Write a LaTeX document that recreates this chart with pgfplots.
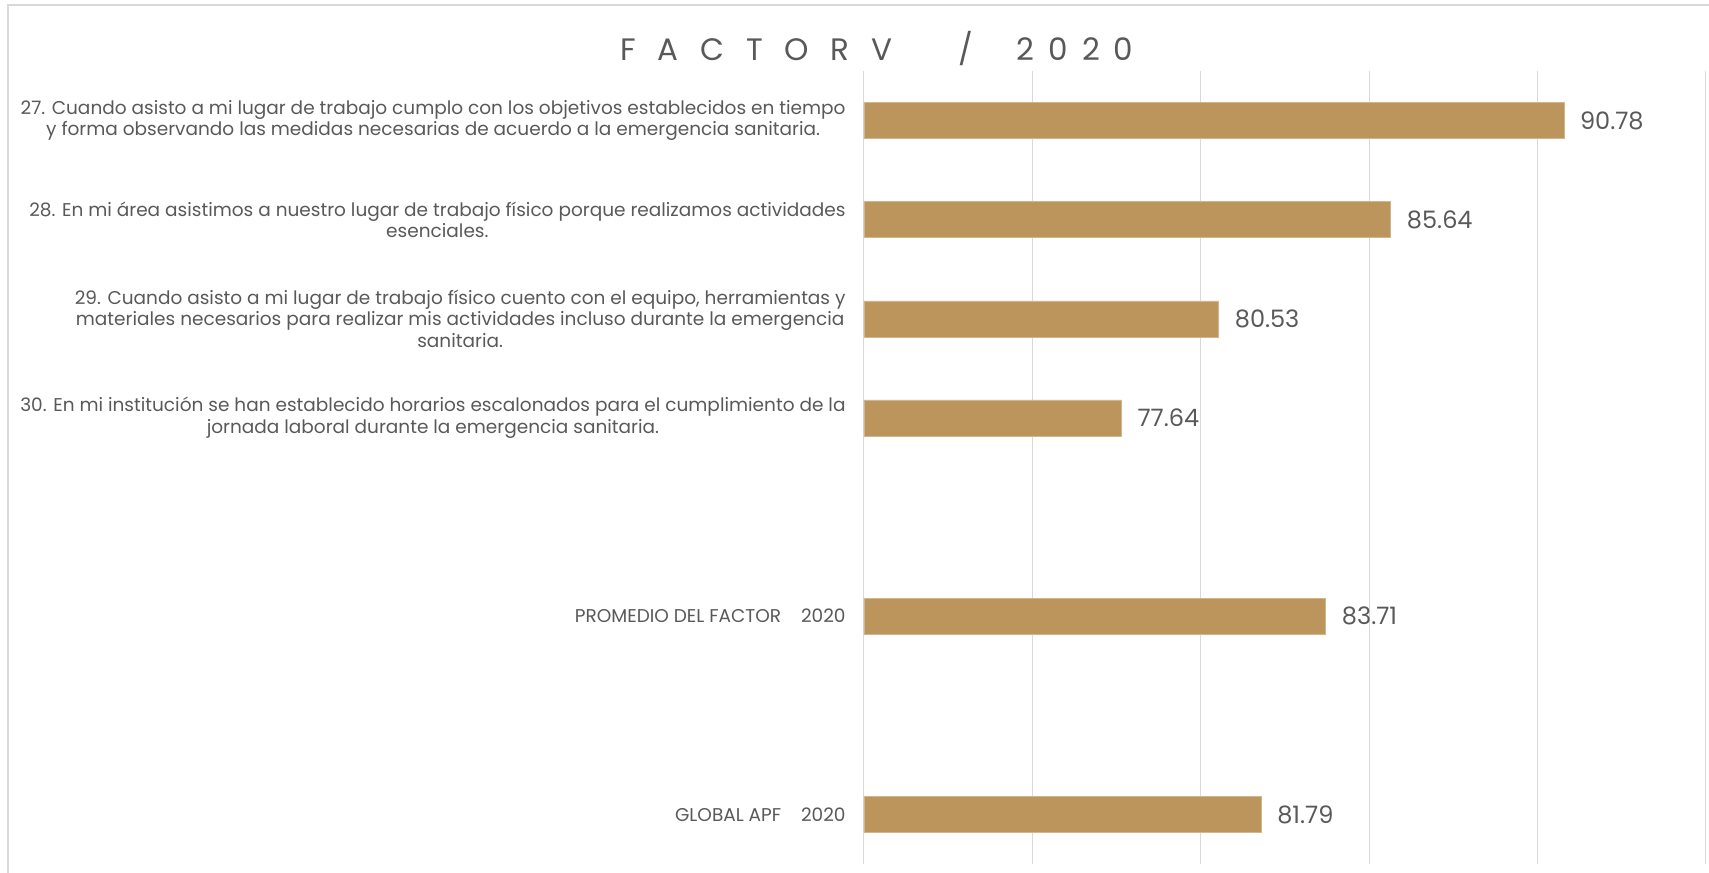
\documentclass[border=0pt]{standalone}
\usepackage{pgfplots}
\pgfplotsset{compat=1.18}
\usepackage{fontspec}
\setmainfont{Poppins}
\definecolor{bargold}{HTML}{BC955C}
\definecolor{gridgray}{HTML}{D9D9D9}
\definecolor{txtgray}{HTML}{595959}
\begin{document}
\begin{tikzpicture}[x=1pt,y=1pt]
\begin{axis}[
  at={(0,0)}, anchor=south west,
  scale only axis, width=842pt, height=793pt,
  xmin=70, xmax=95, ymin=0.5, ymax=8.5,
  y dir=reverse,
  xtick={70,75,80,85,90,95}, xticklabels={},
  xmajorgrids, grid style={gridgray, line width=1pt},
  axis line style={draw=none}, tick style={draw=none},
  ytick={1,2,3,4,5,6,7,8},
  yticklabels={
    {27. Cuando asisto a mi lugar de trabajo cumplo con los objetivos establecidos en tiempo\\y forma observando las medidas necesarias de acuerdo a la emergencia sanitaria.},
    {28. En mi área asistimos a nuestro lugar de trabajo físico porque realizamos actividades\\esenciales.},
    {29. Cuando asisto a mi lugar de trabajo físico cuento con el equipo, herramientas y\\materiales necesarios para realizar mis actividades incluso durante la emergencia\\sanitaria.},
    {30. En mi institución se han establecido horarios escalonados para el cumplimiento de la\\jornada laboral durante la emergencia sanitaria.},
    {},
    {PROMEDIO DEL FACTOR\ \ \ \ 2020},
    {},
    {GLOBAL APF\ \ \ \ 2020}},
  yticklabel style={align=center, text=txtgray, font=\fontsize{18.5}{21.5}\selectfont, inner sep=0pt, xshift=-14pt},
  xbar, bar width=36pt,
  point meta=explicit symbolic,
  nodes near coords,
  every node near coord/.append style={anchor=west, inner sep=0pt, xshift=16pt, text=txtgray, font=\fontsize{24}{28}\selectfont},
  clip=false,
]
\addplot[fill=bargold, draw=bargold!70!white, line width=0.5pt] coordinates {
  (90.78,1) [90.78]
  (85.64,2) [85.64]
  (80.53,3) [80.53]
  (77.64,4) [77.64]
  (83.71,6) [83.71]
  (81.79,8) [81.79]
};
\end{axis}
\draw[gridgray, line width=2pt] (-856,-9) -- (-856,859) -- (845,859);
\node[text=txtgray, font=\fontsize{31}{34}\selectfont] at (13,815) {{\addfontfeature{LetterSpace=70}FACTORV}\kern66pt{\addfontfeature{LetterSpace=70}/}\kern44pt{\addfontfeature{LetterSpace=45}2020}};
\pgfresetboundingbox
\path (-864,-9) rectangle (845,864);
\end{tikzpicture}
\end{document}
